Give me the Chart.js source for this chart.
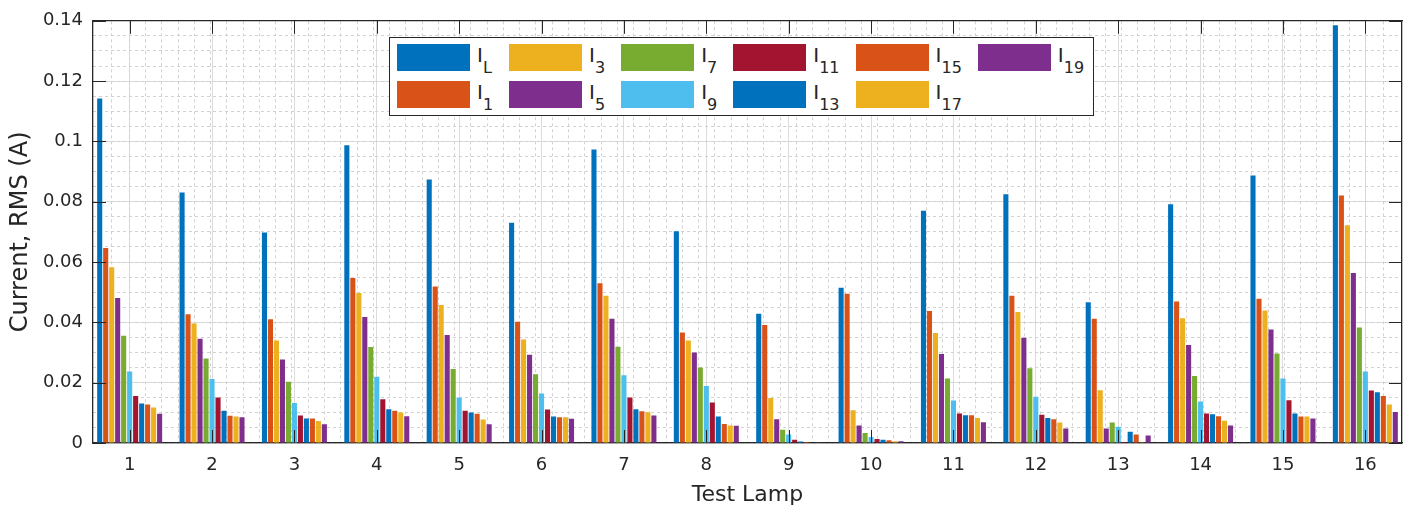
<!DOCTYPE html>
<html>
<head>
<meta charset="utf-8">
<script src="https://cdn.jsdelivr.net/npm/chart.js@4/dist/chart.umd.min.js"></script>
<style>
  body { margin: 0; background: #fff; }
  #wrap { position: relative; width: 1410px; height: 508px; }
  #legend {
    position: absolute; left: 389px; top: 37px;
    box-sizing: border-box; width: 705px; height: 79px;
    border: 1.5px solid #262626; background: #fff;
    display: grid; grid-template-rows: 27px 27px; grid-auto-flow: column;
    grid-auto-columns: max-content; row-gap: 10px; column-gap: 16px;
    padding: 6px 7px;
    font-family: 'DejaVu Sans', sans-serif; color: #262626;
  }
  .item { display: flex; align-items: flex-start; height: 27px; }
  .sw { width: 73px; height: 27px; }
  .lab { margin-left: 7px; margin-top: 1px; font-size: 20px; line-height: 20px; white-space: nowrap; }
  .lab sub { font-size: 16px; vertical-align: -11px; line-height: 0; }
</style>
</head>
<body>
<div id="wrap">
  <canvas id="chart" width="1410" height="508"></canvas>
  <div id="legend"></div>
</div>
<script>
(
    async function () {
        const categories = ['1', '2', '3', '4', '5', '6', '7', '8', '9', '10', '11', '12', '13', '14', '15', '16'];
        const yTicks = [0, 0.02, 0.04, 0.06, 0.08, 0.1, 0.12, 0.14];

        // harmonic names (subscripts) and their values per test lamp
        const seriesNames = ['L', '1', '3', '5', '7', '9', '11', '13', '15', '17', '19'];
        const iL = [0.1142, 0.0831, 0.0698, 0.0987, 0.0874, 0.0730, 0.0973, 0.0702, 0.0429, 0.0515, 0.0770, 0.0825, 0.0467, 0.0792, 0.0887, 0.1385];
        const i1 = [0.0647, 0.0427, 0.0410, 0.0547, 0.0519, 0.0402, 0.0530, 0.0366, 0.0391, 0.0495, 0.0438, 0.0488, 0.0412, 0.0469, 0.0478, 0.0821];
        const i3 = [0.0583, 0.0396, 0.0340, 0.0497, 0.0458, 0.0343, 0.0488, 0.0340, 0.0149, 0.0109, 0.0365, 0.0434, 0.0175, 0.0414, 0.0439, 0.0722];
        const i5 = [0.0481, 0.0346, 0.0277, 0.0418, 0.0358, 0.0293, 0.0412, 0.0300, 0.0079, 0.0058, 0.0295, 0.0349, 0.0048, 0.0325, 0.0376, 0.0564];
        const i7 = [0.0356, 0.0280, 0.0203, 0.0318, 0.0245, 0.0228, 0.0319, 0.0250, 0.0044, 0.0033, 0.0214, 0.0248, 0.0068, 0.0222, 0.0297, 0.0383];
        const i9 = [0.0237, 0.0212, 0.0133, 0.0220, 0.0151, 0.0164, 0.0225, 0.0189, 0.0028, 0.0020, 0.0141, 0.0153, 0.0054, 0.0138, 0.0214, 0.0237];
        const i11 = [0.0156, 0.0151, 0.0091, 0.0145, 0.0107, 0.0111, 0.0151, 0.0134, 0.0011, 0.0013, 0.0098, 0.0094, 0.0003, 0.0098, 0.0142, 0.0174];
        const i13 = [0.0131, 0.0107, 0.0081, 0.0112, 0.0101, 0.0088, 0.0112, 0.0088, 0.0005, 0.0011, 0.0092, 0.0083, 0.0037, 0.0095, 0.0098, 0.0168];
        const i15 = [0.0128, 0.0090, 0.0081, 0.0107, 0.0097, 0.0085, 0.0105, 0.0063, 0.0003, 0.0009, 0.0092, 0.0079, 0.0028, 0.0089, 0.0088, 0.0156];
        const i17 = [0.0118, 0.0088, 0.0073, 0.0101, 0.0078, 0.0085, 0.0102, 0.0058, 0.0002, 0.0006, 0.0083, 0.0068, 0.0001, 0.0074, 0.0088, 0.0128];
        const i19 = [0.0097, 0.0085, 0.0062, 0.0089, 0.0062, 0.0080, 0.0091, 0.0057, 0.0001, 0.0006, 0.0069, 0.0048, 0.0025, 0.0058, 0.0081, 0.0103];
        const seriesValues = [iL, i1, i3, i5, i7, i9, i11, i13, i15, i17, i19];

        // matlab default color order
        const colors = ['#0072BD', '#D95319', '#EDB120', '#7E2F8E', '#77AC30', '#4DBEEE', '#A2142F', '#0072BD', '#D95319', '#EDB120', '#7E2F8E'];

        const xMin = 0.555, xMax = 16.445;
        const textColor = '#262626';
        const tickFont = { family: 'DejaVu Sans', size: 18 };

        // legend with subscripts
        const legend = document.getElementById('legend');
        seriesNames.forEach((name, i) => {
            const item = document.createElement('div');
            item.className = 'item';
            item.innerHTML = '<div class="sw" style="background:' + colors[i] + '"></div>' +
                '<div class="lab">I<sub>' + name + '</sub></div>';
            legend.appendChild(item);
        });

        // matlab style ticks pointing inwards
        const innerTicks = {
            id: 'innerTicks',
            afterDatasetsDraw(chart) {
                const { ctx, chartArea: a, scales: { x, y } } = chart;
                const len = 13;
                ctx.save();
                ctx.strokeStyle = textColor;
                ctx.lineWidth = 1;
                ctx.beginPath();
                x.ticks.forEach(t => {
                    const px = Math.round(x.getPixelForValue(t.value)) + 0.5;
                    ctx.moveTo(px, a.bottom); ctx.lineTo(px, a.bottom - len);
                    ctx.moveTo(px, a.top); ctx.lineTo(px, a.top + len);
                });
                y.ticks.forEach(t => {
                    const py = Math.round(y.getPixelForValue(t.value)) + 0.5;
                    ctx.moveTo(a.left, py); ctx.lineTo(a.left + len, py);
                    ctx.moveTo(a.right, py); ctx.lineTo(a.right - len, py);
                });
                ctx.stroke();
                ctx.restore();
            }
        };

        new Chart(
            document.getElementById('chart'),
            {
                type: 'bar',
                data: {
                    datasets: seriesValues.map((vals, i) => ({
                        label: 'I' + seriesNames[i],
                        data: vals.map((v, j) => ({ x: j + 1, y: v })),
                        backgroundColor: colors[i],
                        categoryPercentage: 0.8,
                        barPercentage: 0.85
                    }))
                },
                plugins: [innerTicks],
                options: {
                    responsive: false,
                    animation: false,
                    layout: { padding: { top: 19, right: 8, bottom: 0, left: 0 } },
                    plugins: {
                        legend: { display: false },
                        tooltip: { enabled: false }
                    },
                    scales: {
                        x: {
                            type: 'linear',
                            position: 'bottom',
                            min: xMin,
                            max: xMax,
                            offset: false,
                            afterBuildTicks: s => { s.ticks = categories.map((c, i) => ({ value: i + 1 })); },
                            afterFit: s => { s.height = 65; },
                            ticks: {
                                autoSkip: false,
                                maxRotation: 0,
                                padding: 12,
                                color: textColor,
                                font: tickFont,
                                callback: (v, i) => categories[i]
                            },
                            grid: { color: '#dcdcdc', drawTicks: false, offset: false },
                            border: { color: textColor, width: 1.3 },
                            title: {
                                display: true,
                                text: 'Test Lamp',
                                color: textColor,
                                font: { family: 'DejaVu Sans', size: 22 },
                                padding: { top: 0, bottom: 0 }
                            }
                        },
                        xMinor: {
                            type: 'linear',
                            position: 'top',
                            min: xMin,
                            max: xMax,
                            afterFit: s => { s.height = 0; },
                            ticks: { display: false, stepSize: 0.2 },
                            grid: { color: '#d2d2d2', drawTicks: false },
                            border: { display: true, color: textColor, width: 1.3, dash: [3, 3] }
                        },
                        y: {
                            min: 0,
                            max: 0.14,
                            afterBuildTicks: s => { s.ticks = yTicks.map(v => ({ value: v })); },
                            afterFit: s => { s.width = 93; },
                            ticks: {
                                padding: 10,
                                color: textColor,
                                font: tickFont,
                                callback: v => String(+v.toFixed(2))
                            },
                            grid: { color: '#dcdcdc', drawTicks: false },
                            border: { color: textColor, width: 1.3 },
                            title: {
                                display: true,
                                text: 'Current, RMS (A)',
                                color: textColor,
                                font: { family: 'DejaVu Sans', size: 24 },
                                padding: { top: 6, bottom: 0 }
                            }
                        },
                        yMinor: {
                            type: 'linear',
                            position: 'right',
                            min: 0,
                            max: 0.14,
                            afterFit: s => { s.width = 0; },
                            ticks: { display: false, stepSize: 0.005 },
                            grid: { color: '#d2d2d2', drawTicks: false },
                            border: { display: true, color: textColor, width: 1.3, dash: [3, 3] }
                        }
                    }
                }
            }
        );
    })();
</script>
</body>
</html>
